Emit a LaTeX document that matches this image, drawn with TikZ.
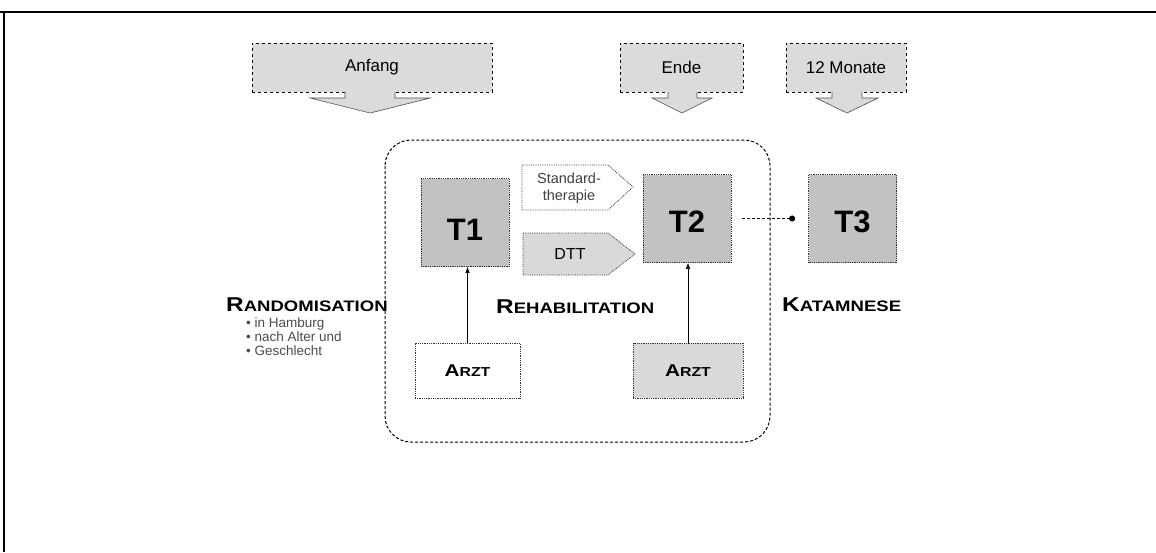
\documentclass[tikz,border=0pt]{standalone}
\usepackage{fontspec}
\setmainfont{Liberation Sans}
\newfontfamily\widefont[FakeStretch=1.22]{Liberation Sans}
\usetikzlibrary{arrows.meta}
\newcommand{\px}[1]{\fontsize{#1}{#1}\selectfont}
\begin{document}
\begin{tikzpicture}[x=1pt,y=-1pt,
  topbox/.style={draw=black, dashed, line width=0.8pt, fill=gray!28, minimum width=#1, minimum height=49, inner sep=0pt, font=\px{17}},
  tbox/.style={draw=black!80, densely dotted, line width=0.8pt, fill=gray!48, minimum width=88, minimum height=88, inner sep=0pt},
  tlabel/.style={font=\bfseries\px{31}},
  arztbox/.style={draw=black!80, densely dotted, line width=0.8pt, minimum width=#1, minimum height=55, inner sep=0pt},
  blockarrow/.style={draw=black!70, line width=0.6pt, fill=gray!28},
  seclabel/.style={anchor=base west, inner sep=0pt},
  bullet/.style={anchor=base west, inner sep=0pt, font=\px{13.5}, text=black!70},
  up/.style={-{Latex[length=6,width=4.5]}, line width=0.6pt}
]
\useasboundingbox (0,0) rectangle (1156,552);
% frame
\draw[line width=1.6pt] (0,12) -- (1156,12);
\draw[line width=1.2pt] (4,12) -- (4,552);

% top boxes
\node[topbox=240] (anf) at (372,67.5) {Anfang};
\node[topbox=123] (ende) at (681.5,67.5) {Ende};
\node[topbox=120] (mon) at (846,67.5) {12 Monate};
\draw[blockarrow] (345,92) -- (345,98) -- (310,98) -- (370,113) -- (430,98) -- (395,98) -- (395,92);
\draw[blockarrow] (668,92) -- (668,98) -- (652,98) -- (682,113) -- (712,98) -- (697,98) -- (697,92);
\draw[blockarrow] (832,92) -- (832,98) -- (816,98) -- (847,113) -- (878,98) -- (862,98) -- (862,92);

% container
\draw[densely dashed, line width=1pt, rounded corners=26] (385,140) rectangle (770,442);

% T boxes
\node[tbox] (T1) at (465,222.5) {};
\node[tlabel] at (465,230) {T1};
\node[tbox] (T2) at (687,218.5) {};
\node[tlabel] at (687,222) {T2};
\node[tbox] (T3) at (852.5,218.5) {};
\node[tlabel] at (852.5,222) {T3};

% therapy arrows
\draw[draw=black!80, densely dotted, line width=0.8pt, fill=white] (522,165) -- (608,165) -- (633,187) -- (608,210) -- (522,210) -- cycle;
\node[align=center, font=\px{14.5}, text=black!75, inner sep=0pt] (std) at (569,188) {Standard-\\[3pt]therapie};
\draw[draw=black!80, densely dotted, line width=0.8pt, fill=gray!30] (523,233) -- (608,233) -- (635,254) -- (608,275) -- (523,275) -- cycle;
\node[font=\px{16}, inner sep=0pt] (dtt) at (570,254) {DTT};

% T2 -> T3
\draw[densely dashed, line width=0.6pt, -{Circle[length=6]}] ([xshift=11]T2.east) -- ([xshift=-13]T3.west);

% Arzt boxes
\node[arztbox=105, fill=white] (arztL) at (467.5,370.5) {{\widefont\bfseries\px{17}A\px{13}RZT}};
\node[arztbox=110, fill=gray!30] (arztR) at (688,370.5) {{\widefont\bfseries\px{17}A\px{13}RZT}};
\draw[up] (arztL.north) -- (arztL.north |- T1.south);
\draw[up] (arztR.north) -- (arztR.north |- T2.south);

% section labels
\node[seclabel] (rand) at (226,311) {\widefont\bfseries\px{20}R\px{15.2}ANDOMISATION};
\node[seclabel] (reha) at (496,313) {\widefont\bfseries\px{20}R\px{15.2}EHABILITATION};
\node[seclabel] (kat) at (782,311) {\widefont\bfseries\px{20}K\px{15.2}ATAMNESE};

% bullets
\node[bullet] (b1) at (246,327) {\textbullet\ in Hamburg};
\node[bullet] (b2) at (246,341) {\textbullet\ nach Alter und};
\node[bullet] (b3) at (246,355) {\textbullet\ Geschlecht};
\end{tikzpicture}
\end{document}
